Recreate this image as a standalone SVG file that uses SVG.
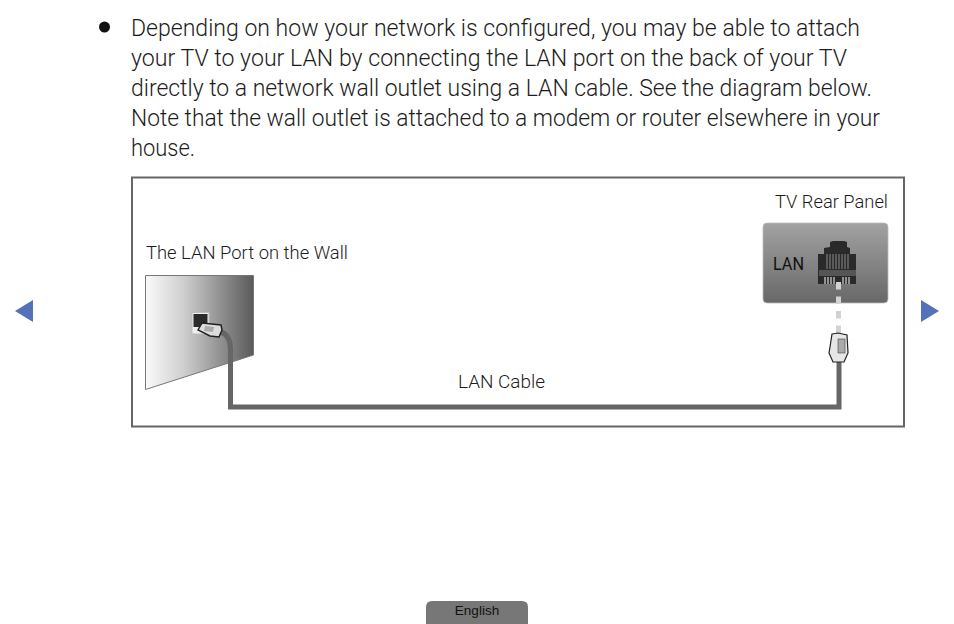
<svg xmlns="http://www.w3.org/2000/svg" width="954" height="624" viewBox="0 0 954 624">
<style>
text{font-family:Roboto,"Liberation Sans",Arial,sans-serif;font-weight:300;fill:#1c1c1c}
.b{font-size:24px}
.l{font-size:18px}
.cable{fill:none;stroke:#666;stroke-width:5;stroke-linejoin:miter}
.nav{fill:#5472b8}
</style>
<defs>
<linearGradient id="wall" x1="0" x2="1" y1="0" y2="0"><stop offset="0" stop-color="#fafafa"/><stop offset="0.35" stop-color="#cfcfcf"/><stop offset="1" stop-color="#5a5a5a"/></linearGradient>
<linearGradient id="panel" x1="0" x2="0" y1="0" y2="1"><stop offset="0" stop-color="#a2a2a2"/><stop offset="1" stop-color="#686868"/></linearGradient>
</defs>
<rect width="954" height="624" fill="#fff"/>
<g id="body-text">
<circle cx="104.500" cy="27" r="5.500" fill="#111"/>
<text class="b" x="131" y="35.500" textLength="729" lengthAdjust="spacingAndGlyphs">Depending on how your network is configured, you may be able to attach</text>
<text class="b" x="131" y="65.500" textLength="716" lengthAdjust="spacingAndGlyphs">your TV to your LAN by connecting the LAN port on the back of your TV</text>
<text class="b" x="131" y="95.500" textLength="741" lengthAdjust="spacingAndGlyphs">directly to a network wall outlet using a LAN cable. See the diagram below.</text>
<text class="b" x="131" y="125.500" textLength="749" lengthAdjust="spacingAndGlyphs">Note that the wall outlet is attached to a modem or router elsewhere in your</text>
<text class="b" x="131" y="155.500" textLength="64" lengthAdjust="spacingAndGlyphs">house.</text>
</g>
<rect id="frame" x="132" y="177.500" width="772" height="249" fill="#fff" stroke="#666" stroke-width="2"/>
<g id="wall-port">
<polygon points="145.500,275.500 253.500,275.500 253.500,355 145.500,389.500" fill="url(#wall)" stroke="#777"/>
<rect x="192" y="312.500" width="17" height="21.500" fill="#eee" stroke="#bbb"/>
<rect x="193.500" y="314" width="14" height="13" fill="#2a2a2a"/>
<text class="l" x="146" y="259" textLength="202" lengthAdjust="spacingAndGlyphs">The LAN Port on the Wall</text>
</g>
<g id="tv-panel">
<rect x="763" y="223" width="125" height="80" rx="4" fill="url(#panel)" stroke="#bbb" stroke-width="0.800"/>
<text class="l" x="773" y="270" textLength="31" lengthAdjust="spacingAndGlyphs" style="fill:#111;font-weight:400">LAN</text>
<path d="M818 254H824V248L830 247V242L833 241H844L847 242V247L850 248V254H856V284H818Z" fill="#2a2a2a"/>
<path d="M827 254V269M830 254V269M833 254V269M836 254V269M839 254V269M842 254V269M845 254V269M848 254V269" stroke="#8a8a8a" stroke-width="1"/>
<rect x="819" y="270" width="37" height="6" fill="#555"/>
<path d="M825 277V284M828 277V284M831 277V284M834 277V284M843 277V284M846 277V284M849 277V284" stroke="#b5b5b5" stroke-width="1.500"/>
<text class="l" x="775" y="208" textLength="113" lengthAdjust="spacingAndGlyphs">TV Rear Panel</text>
</g>
<g id="connectors">
<path class="cable" d="M221 332Q230.500 335 230.500 350V407H839V360"/>
<path d="M838.500 282V334" fill="none" stroke="#d2d2d2" stroke-width="5" stroke-dasharray="7.500 7"/>
</g>
<g id="wall-plug">
<path d="M198 330L202 323L221 325L222 330L219 337L210 336Z" fill="#ddd" stroke="#222" stroke-width="1.500"/>
<path d="M205 326L214 327L213 332L204 331Z" fill="#aaa"/>
</g>
<g id="plug">
<path d="M832 334L838 333L847 335L848 353L844 362H833L829 353L830 347Z" fill="#e6e6e6" stroke="#222" stroke-width="1.200"/>
<rect x="838" y="339" width="7" height="14" fill="#aaa" stroke="#444" stroke-width="0.600"/>
</g>
<g id="cable-label"><text class="l" x="458" y="388" textLength="87" lengthAdjust="spacingAndGlyphs">LAN Cable</text></g>
<polygon id="prev" class="nav" points="15,311 33,300 33,322"/>
<polygon id="next" class="nav" points="939,311 921,300 921,322"/>
<g id="language">
<path d="M426 624V607Q426 601 432 601H522Q528 601 528 607V624Z" fill="#777"/>
<text x="477" y="615" font-size="13.500" text-anchor="middle" style="font-family:'Liberation Sans',sans-serif;font-weight:400;fill:#111">English</text>
</g>
</svg>
